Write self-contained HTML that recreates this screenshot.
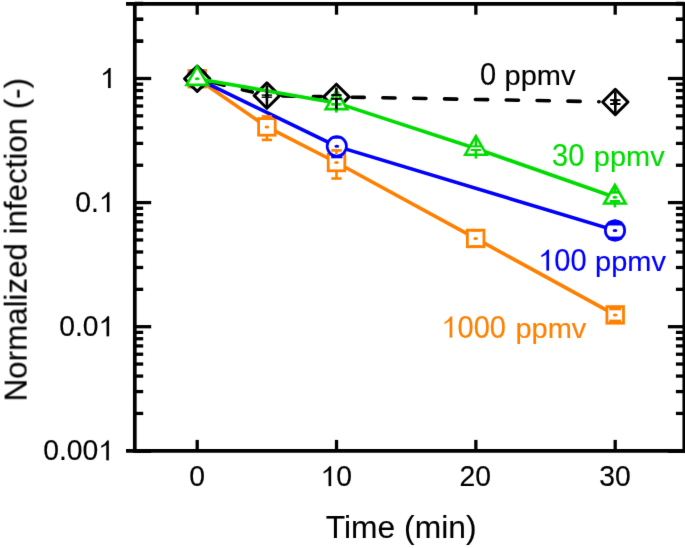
<!DOCTYPE html>
<html><head><meta charset="utf-8"><style>html,body{margin:0;padding:0;background:#fff;overflow:hidden;width:685px;height:548px}svg{display:block;will-change:transform;}</style></head>
<body>
<svg width="685" height="548" viewBox="0 0 685 548"><defs><filter id="bl" x="0" y="0" width="100%" height="100%" filterUnits="userSpaceOnUse" color-interpolation-filters="sRGB"><feConvolveMatrix order="3" kernelMatrix="0.0072 0.0847 0.0072 0.0847 1 0.0847 0.0072 0.0847 0.0072" divisor="1.3673" edgeMode="duplicate" preserveAlpha="true"/></filter></defs><g filter="url(#bl)"><rect width="685" height="548" fill="#fff"/>
<polyline points="197.20,78.70 266.90,126.90 336.50,162.50 475.65,238.45 615.20,314.90" fill="none" stroke="#ff8000" stroke-width="3.6" stroke-linejoin="round"/>
<rect x="188.90" y="70.40" width="16.60" height="16.60" fill="#fff" stroke="#ff8000" stroke-width="2.8"/>
<ellipse cx="197.20" cy="78.70" rx="2.4" ry="1.5" fill="#ff8000"/>
<rect x="258.60" y="118.60" width="16.60" height="16.60" fill="#fff" stroke="#ff8000" stroke-width="2.8"/>
<ellipse cx="266.90" cy="126.90" rx="2.4" ry="1.5" fill="#ff8000"/>
<rect x="328.20" y="154.20" width="16.60" height="16.60" fill="#fff" stroke="#ff8000" stroke-width="2.8"/>
<ellipse cx="336.50" cy="162.50" rx="2.4" ry="1.5" fill="#ff8000"/>
<rect x="467.35" y="230.15" width="16.60" height="16.60" fill="#fff" stroke="#ff8000" stroke-width="2.8"/>
<ellipse cx="475.65" cy="238.45" rx="2.4" ry="1.5" fill="#ff8000"/>
<rect x="606.90" y="306.60" width="16.60" height="16.60" fill="#fff" stroke="#ff8000" stroke-width="2.8"/>
<ellipse cx="615.20" cy="314.90" rx="2.4" ry="1.5" fill="#ff8000"/>
<polyline points="197.20,78.70 336.80,146.35 615.00,230.40" fill="none" stroke="#0000ff" stroke-width="3.6" stroke-linejoin="round"/>
<circle cx="197.20" cy="78.70" r="9.65" fill="#fff" stroke="#0000ff" stroke-width="2.7"/>
<ellipse cx="197.20" cy="78.70" rx="2.4" ry="1.5" fill="#0000ff"/>
<circle cx="336.80" cy="146.35" r="9.65" fill="#fff" stroke="#0000ff" stroke-width="2.7"/>
<ellipse cx="336.80" cy="146.35" rx="2.4" ry="1.5" fill="#0000ff"/>
<circle cx="615.00" cy="230.40" r="9.65" fill="#fff" stroke="#0000ff" stroke-width="2.7"/>
<ellipse cx="615.00" cy="230.40" rx="2.4" ry="1.5" fill="#0000ff"/>
<line x1="210.61" y1="81.95" x2="252.32" y2="92.07" stroke="#000" stroke-width="3.6" stroke-dasharray="12.25 18.6" stroke-dashoffset="-1.8" stroke-linecap="round"/>
<line x1="280.70" y1="95.86" x2="321.40" y2="96.62" stroke="#000" stroke-width="3.6" stroke-dasharray="12.25 18.6" stroke-dashoffset="-1.8" stroke-linecap="round"/>
<line x1="350.20" y1="97.15" x2="599.10" y2="101.70" stroke="#000" stroke-width="3.6" stroke-dasharray="12.25 18.6" stroke-dashoffset="-1.8" stroke-linecap="round"/>
<path d="M197.20 66.00L209.90 78.70L197.20 91.40L184.50 78.70Z" fill="#fff" stroke="#000" stroke-width="3.0" stroke-linejoin="round"/>
<ellipse cx="197.20" cy="78.70" rx="2.4" ry="1.5" fill="#000"/>
<path d="M266.90 82.90L279.60 95.60L266.90 108.30L254.20 95.60Z" fill="#fff" stroke="#000" stroke-width="3.0" stroke-linejoin="round"/>
<ellipse cx="266.90" cy="95.60" rx="2.4" ry="1.5" fill="#000"/>
<path d="M336.40 84.20L349.10 96.90L336.40 109.60L323.70 96.90Z" fill="#fff" stroke="#000" stroke-width="3.0" stroke-linejoin="round"/>
<ellipse cx="336.40" cy="96.90" rx="2.4" ry="1.5" fill="#000"/>
<path d="M615.30 89.30L628.00 102.00L615.30 114.70L602.60 102.00Z" fill="#fff" stroke="#000" stroke-width="3.0" stroke-linejoin="round"/>
<ellipse cx="615.30" cy="102.00" rx="2.4" ry="1.5" fill="#000"/>
<polyline points="197.20,78.70 336.40,102.90 475.90,148.50 614.90,197.30" fill="none" stroke="#00dc00" stroke-width="3.6" stroke-linejoin="round"/>
<path d="M197.20 66.30L207.94 84.90L186.46 84.90Z" fill="#fff" stroke="#00dc00" stroke-width="2.6"/>
<ellipse cx="197.20" cy="78.70" rx="2.4" ry="1.5" fill="#00dc00"/>
<path d="M336.40 90.50L347.14 109.10L325.66 109.10Z" fill="#fff" stroke="#00dc00" stroke-width="2.6"/>
<path d="M475.90 136.10L486.64 154.70L465.16 154.70Z" fill="#fff" stroke="#00dc00" stroke-width="2.6"/>
<path d="M614.90 184.90L625.64 203.50L604.16 203.50Z" fill="#fff" stroke="#00dc00" stroke-width="2.6"/>
<ellipse cx="614.90" cy="197.30" rx="2.4" ry="1.5" fill="#00dc00"/>
<line x1="266.90" y1="116.40" x2="266.90" y2="118.00" stroke="#ff8000" stroke-width="2.6"/><line x1="266.90" y1="136.00" x2="266.90" y2="139.90" stroke="#ff8000" stroke-width="2.6"/><line x1="261.70" y1="116.40" x2="272.10" y2="116.40" stroke="#ff8000" stroke-width="2.6"/><line x1="261.70" y1="139.90" x2="272.10" y2="139.90" stroke="#ff8000" stroke-width="2.6"/>
<line x1="336.50" y1="150.40" x2="336.50" y2="154.00" stroke="#ff8000" stroke-width="2.6"/><line x1="336.50" y1="171.00" x2="336.50" y2="178.50" stroke="#ff8000" stroke-width="2.6"/><line x1="331.30" y1="150.40" x2="341.70" y2="150.40" stroke="#ff8000" stroke-width="2.6"/><line x1="331.30" y1="178.50" x2="341.70" y2="178.50" stroke="#ff8000" stroke-width="2.6"/>
<line x1="470.45" y1="230.40" x2="480.85" y2="230.40" stroke="#ff8000" stroke-width="2.6"/><line x1="470.45" y1="246.50" x2="480.85" y2="246.50" stroke="#ff8000" stroke-width="2.6"/>
<line x1="609.20" y1="309.00" x2="621.20" y2="309.00" stroke="#ff8000" stroke-width="2.6"/><line x1="609.20" y1="320.90" x2="621.20" y2="320.90" stroke="#ff8000" stroke-width="2.6"/>
<line x1="332.80" y1="137.40" x2="340.80" y2="137.40" stroke="#0000ff" stroke-width="2.6"/>
<line x1="331.20" y1="157.00" x2="342.40" y2="157.00" stroke="#0000ff" stroke-width="2.6"/>
<line x1="615.00" y1="219.50" x2="615.00" y2="224.00" stroke="#0000ff" stroke-width="2.6"/><line x1="608.00" y1="223.50" x2="622.00" y2="223.50" stroke="#0000ff" stroke-width="4.0"/>
<line x1="615.00" y1="238.00" x2="615.00" y2="241.30" stroke="#0000ff" stroke-width="2.6"/><line x1="608.00" y1="238.10" x2="622.00" y2="238.10" stroke="#0000ff" stroke-width="3.0"/>
<line x1="336.40" y1="92.50" x2="336.40" y2="112.60" stroke="#00dc00" stroke-width="2.6"/><line x1="331.20" y1="104.30" x2="341.60" y2="104.30" stroke="#00dc00" stroke-width="2.8"/>
<line x1="475.90" y1="137.00" x2="475.90" y2="146.30" stroke="#00dc00" stroke-width="2.6"/><line x1="475.90" y1="150.00" x2="475.90" y2="158.60" stroke="#00dc00" stroke-width="2.6"/><line x1="470.70" y1="146.30" x2="481.10" y2="146.30" stroke="#00dc00" stroke-width="2.0"/><line x1="470.70" y1="150.00" x2="481.10" y2="150.00" stroke="#00dc00" stroke-width="2.0"/>
<line x1="614.90" y1="186.00" x2="614.90" y2="192.40" stroke="#00dc00" stroke-width="2.6"/><line x1="614.90" y1="201.30" x2="614.90" y2="207.40" stroke="#00dc00" stroke-width="2.6"/><line x1="609.70" y1="192.40" x2="620.10" y2="192.40" stroke="#00dc00" stroke-width="2.6"/><line x1="609.70" y1="201.30" x2="620.10" y2="201.30" stroke="#00dc00" stroke-width="2.6"/>
<line x1="266.90" y1="85.50" x2="266.90" y2="95.20" stroke="#000" stroke-width="2.6"/><line x1="266.90" y1="97.30" x2="266.90" y2="107.30" stroke="#000" stroke-width="2.6"/><line x1="261.70" y1="95.10" x2="272.10" y2="95.10" stroke="#000" stroke-width="1.4"/><line x1="261.70" y1="97.20" x2="272.10" y2="97.20" stroke="#000" stroke-width="1.4"/>
<line x1="336.40" y1="87.50" x2="336.40" y2="95.10" stroke="#000" stroke-width="2.6"/><line x1="336.40" y1="98.80" x2="336.40" y2="109.50" stroke="#000" stroke-width="2.6"/><line x1="331.20" y1="95.10" x2="341.60" y2="95.10" stroke="#000" stroke-width="2.0"/><line x1="331.20" y1="98.80" x2="341.60" y2="98.80" stroke="#000" stroke-width="2.0"/>
<line x1="615.30" y1="91.50" x2="615.30" y2="100.10" stroke="#000" stroke-width="2.6"/><line x1="615.30" y1="104.00" x2="615.30" y2="112.80" stroke="#000" stroke-width="2.6"/><line x1="610.10" y1="100.10" x2="620.50" y2="100.10" stroke="#000" stroke-width="2.0"/><line x1="610.10" y1="104.00" x2="620.50" y2="104.00" stroke="#000" stroke-width="2.0"/>
<line x1="134.80" y1="1.95" x2="134.80" y2="452.65" stroke="#000" stroke-width="3.7"/>
<line x1="684.30" y1="1.95" x2="684.30" y2="452.65" stroke="#000" stroke-width="3.7"/>
<line x1="126.00" y1="3.80" x2="687.00" y2="3.80" stroke="#000" stroke-width="3.7"/>
<line x1="126.00" y1="450.80" x2="687.00" y2="450.80" stroke="#000" stroke-width="3.7"/>
<line x1="134.80" y1="451.30" x2="151.20" y2="451.30" stroke="#000" stroke-width="3.3"/>
<line x1="667.90" y1="451.30" x2="684.30" y2="451.30" stroke="#000" stroke-width="3.3"/>
<line x1="134.80" y1="413.44" x2="143.20" y2="413.44" stroke="#000" stroke-width="3.3"/>
<line x1="675.90" y1="413.44" x2="684.30" y2="413.44" stroke="#000" stroke-width="3.3"/>
<line x1="134.80" y1="391.59" x2="143.20" y2="391.59" stroke="#000" stroke-width="3.3"/>
<line x1="675.90" y1="391.59" x2="684.30" y2="391.59" stroke="#000" stroke-width="3.3"/>
<line x1="134.80" y1="376.08" x2="143.20" y2="376.08" stroke="#000" stroke-width="3.3"/>
<line x1="675.90" y1="376.08" x2="684.30" y2="376.08" stroke="#000" stroke-width="3.3"/>
<line x1="134.80" y1="364.06" x2="143.20" y2="364.06" stroke="#000" stroke-width="3.3"/>
<line x1="675.90" y1="364.06" x2="684.30" y2="364.06" stroke="#000" stroke-width="3.3"/>
<line x1="134.80" y1="354.23" x2="143.20" y2="354.23" stroke="#000" stroke-width="3.3"/>
<line x1="675.90" y1="354.23" x2="684.30" y2="354.23" stroke="#000" stroke-width="3.3"/>
<line x1="134.80" y1="345.92" x2="143.20" y2="345.92" stroke="#000" stroke-width="3.3"/>
<line x1="675.90" y1="345.92" x2="684.30" y2="345.92" stroke="#000" stroke-width="3.3"/>
<line x1="134.80" y1="338.73" x2="143.20" y2="338.73" stroke="#000" stroke-width="3.3"/>
<line x1="675.90" y1="338.73" x2="684.30" y2="338.73" stroke="#000" stroke-width="3.3"/>
<line x1="134.80" y1="332.38" x2="143.20" y2="332.38" stroke="#000" stroke-width="3.3"/>
<line x1="675.90" y1="332.38" x2="684.30" y2="332.38" stroke="#000" stroke-width="3.3"/>
<line x1="134.80" y1="326.70" x2="151.20" y2="326.70" stroke="#000" stroke-width="3.3"/>
<line x1="667.90" y1="326.70" x2="684.30" y2="326.70" stroke="#000" stroke-width="3.3"/>
<line x1="134.80" y1="289.34" x2="143.20" y2="289.34" stroke="#000" stroke-width="3.3"/>
<line x1="675.90" y1="289.34" x2="684.30" y2="289.34" stroke="#000" stroke-width="3.3"/>
<line x1="134.80" y1="267.49" x2="143.20" y2="267.49" stroke="#000" stroke-width="3.3"/>
<line x1="675.90" y1="267.49" x2="684.30" y2="267.49" stroke="#000" stroke-width="3.3"/>
<line x1="134.80" y1="251.98" x2="143.20" y2="251.98" stroke="#000" stroke-width="3.3"/>
<line x1="675.90" y1="251.98" x2="684.30" y2="251.98" stroke="#000" stroke-width="3.3"/>
<line x1="134.80" y1="239.96" x2="143.20" y2="239.96" stroke="#000" stroke-width="3.3"/>
<line x1="675.90" y1="239.96" x2="684.30" y2="239.96" stroke="#000" stroke-width="3.3"/>
<line x1="134.80" y1="230.13" x2="143.20" y2="230.13" stroke="#000" stroke-width="3.3"/>
<line x1="675.90" y1="230.13" x2="684.30" y2="230.13" stroke="#000" stroke-width="3.3"/>
<line x1="134.80" y1="221.82" x2="143.20" y2="221.82" stroke="#000" stroke-width="3.3"/>
<line x1="675.90" y1="221.82" x2="684.30" y2="221.82" stroke="#000" stroke-width="3.3"/>
<line x1="134.80" y1="214.63" x2="143.20" y2="214.63" stroke="#000" stroke-width="3.3"/>
<line x1="675.90" y1="214.63" x2="684.30" y2="214.63" stroke="#000" stroke-width="3.3"/>
<line x1="134.80" y1="208.28" x2="143.20" y2="208.28" stroke="#000" stroke-width="3.3"/>
<line x1="675.90" y1="208.28" x2="684.30" y2="208.28" stroke="#000" stroke-width="3.3"/>
<line x1="134.80" y1="202.60" x2="151.20" y2="202.60" stroke="#000" stroke-width="3.3"/>
<line x1="667.90" y1="202.60" x2="684.30" y2="202.60" stroke="#000" stroke-width="3.3"/>
<line x1="134.80" y1="165.24" x2="143.20" y2="165.24" stroke="#000" stroke-width="3.3"/>
<line x1="675.90" y1="165.24" x2="684.30" y2="165.24" stroke="#000" stroke-width="3.3"/>
<line x1="134.80" y1="143.39" x2="143.20" y2="143.39" stroke="#000" stroke-width="3.3"/>
<line x1="675.90" y1="143.39" x2="684.30" y2="143.39" stroke="#000" stroke-width="3.3"/>
<line x1="134.80" y1="127.88" x2="143.20" y2="127.88" stroke="#000" stroke-width="3.3"/>
<line x1="675.90" y1="127.88" x2="684.30" y2="127.88" stroke="#000" stroke-width="3.3"/>
<line x1="134.80" y1="115.86" x2="143.20" y2="115.86" stroke="#000" stroke-width="3.3"/>
<line x1="675.90" y1="115.86" x2="684.30" y2="115.86" stroke="#000" stroke-width="3.3"/>
<line x1="134.80" y1="106.03" x2="143.20" y2="106.03" stroke="#000" stroke-width="3.3"/>
<line x1="675.90" y1="106.03" x2="684.30" y2="106.03" stroke="#000" stroke-width="3.3"/>
<line x1="134.80" y1="97.72" x2="143.20" y2="97.72" stroke="#000" stroke-width="3.3"/>
<line x1="675.90" y1="97.72" x2="684.30" y2="97.72" stroke="#000" stroke-width="3.3"/>
<line x1="134.80" y1="90.53" x2="143.20" y2="90.53" stroke="#000" stroke-width="3.3"/>
<line x1="675.90" y1="90.53" x2="684.30" y2="90.53" stroke="#000" stroke-width="3.3"/>
<line x1="134.80" y1="84.18" x2="143.20" y2="84.18" stroke="#000" stroke-width="3.3"/>
<line x1="675.90" y1="84.18" x2="684.30" y2="84.18" stroke="#000" stroke-width="3.3"/>
<line x1="134.80" y1="78.50" x2="151.20" y2="78.50" stroke="#000" stroke-width="3.3"/>
<line x1="667.90" y1="78.50" x2="684.30" y2="78.50" stroke="#000" stroke-width="3.3"/>
<line x1="134.80" y1="41.14" x2="143.20" y2="41.14" stroke="#000" stroke-width="3.3"/>
<line x1="675.90" y1="41.14" x2="684.30" y2="41.14" stroke="#000" stroke-width="3.3"/>
<line x1="134.80" y1="19.29" x2="143.20" y2="19.29" stroke="#000" stroke-width="3.3"/>
<line x1="675.90" y1="19.29" x2="684.30" y2="19.29" stroke="#000" stroke-width="3.3"/>
<line x1="134.80" y1="3.78" x2="143.20" y2="3.78" stroke="#000" stroke-width="3.3"/>
<line x1="675.90" y1="3.78" x2="684.30" y2="3.78" stroke="#000" stroke-width="3.3"/>
<line x1="134.80" y1="-8.24" x2="143.20" y2="-8.24" stroke="#000" stroke-width="3.3"/>
<line x1="675.90" y1="-8.24" x2="684.30" y2="-8.24" stroke="#000" stroke-width="3.3"/>
<line x1="134.80" y1="-18.07" x2="143.20" y2="-18.07" stroke="#000" stroke-width="3.3"/>
<line x1="675.90" y1="-18.07" x2="684.30" y2="-18.07" stroke="#000" stroke-width="3.3"/>
<line x1="134.80" y1="-26.38" x2="143.20" y2="-26.38" stroke="#000" stroke-width="3.3"/>
<line x1="675.90" y1="-26.38" x2="684.30" y2="-26.38" stroke="#000" stroke-width="3.3"/>
<line x1="134.80" y1="-33.57" x2="143.20" y2="-33.57" stroke="#000" stroke-width="3.3"/>
<line x1="675.90" y1="-33.57" x2="684.30" y2="-33.57" stroke="#000" stroke-width="3.3"/>
<line x1="134.80" y1="-39.92" x2="143.20" y2="-39.92" stroke="#000" stroke-width="3.3"/>
<line x1="675.90" y1="-39.92" x2="684.30" y2="-39.92" stroke="#000" stroke-width="3.3"/>
<line x1="134.80" y1="41.14" x2="143.20" y2="41.14" stroke="#000" stroke-width="3.3"/>
<line x1="675.90" y1="41.14" x2="684.30" y2="41.14" stroke="#000" stroke-width="3.3"/>
<line x1="134.80" y1="19.29" x2="143.20" y2="19.29" stroke="#000" stroke-width="3.3"/>
<line x1="675.90" y1="19.29" x2="684.30" y2="19.29" stroke="#000" stroke-width="3.3"/>
<line x1="134.80" y1="3.40" x2="143.20" y2="3.40" stroke="#000" stroke-width="3.3"/>
<line x1="675.90" y1="3.40" x2="684.30" y2="3.40" stroke="#000" stroke-width="3.3"/>
<line x1="197.20" y1="439.90" x2="197.20" y2="450.80" stroke="#000" stroke-width="3.3"/>
<line x1="197.20" y1="3.80" x2="197.20" y2="14.70" stroke="#000" stroke-width="3.3"/>
<line x1="336.53" y1="439.90" x2="336.53" y2="450.80" stroke="#000" stroke-width="3.3"/>
<line x1="336.53" y1="3.80" x2="336.53" y2="14.70" stroke="#000" stroke-width="3.3"/>
<line x1="475.86" y1="439.90" x2="475.86" y2="450.80" stroke="#000" stroke-width="3.3"/>
<line x1="475.86" y1="3.80" x2="475.86" y2="14.70" stroke="#000" stroke-width="3.3"/>
<line x1="615.19" y1="439.90" x2="615.19" y2="450.80" stroke="#000" stroke-width="3.3"/>
<line x1="615.19" y1="3.80" x2="615.19" y2="14.70" stroke="#000" stroke-width="3.3"/>
<path transform="translate(100.06,88.00) scale(0.01382,-0.01382)" d="M763 0L583 0L583 1121Q440 1010 223 915L223 1045Q520 1200 651 1440L763 1440Z" fill="#000" stroke="#000" stroke-width="10.9"/>
<text transform="translate(75.26,212.10) scale(1,1.055)" font-size="28.3" fill="#000" stroke="#000" font-family="'Liberation Sans', sans-serif" stroke-width="0.15">0.</text><path transform="translate(98.86,212.10) scale(0.01382,-0.01382)" d="M763 0L583 0L583 1121Q440 1010 223 915L223 1045Q520 1200 651 1440L763 1440Z" fill="#000" stroke="#000" stroke-width="10.9"/>
<text transform="translate(59.22,336.20) scale(1,1.055)" font-size="28.3" fill="#000" stroke="#000" font-family="'Liberation Sans', sans-serif" stroke-width="0.15">0.0</text><path transform="translate(98.56,336.20) scale(0.01382,-0.01382)" d="M763 0L583 0L583 1121Q440 1010 223 915L223 1045Q520 1200 651 1440L763 1440Z" fill="#000" stroke="#000" stroke-width="10.9"/>
<text transform="translate(43.18,460.30) scale(1,1.055)" font-size="28.3" fill="#000" stroke="#000" font-family="'Liberation Sans', sans-serif" stroke-width="0.15">0.00</text><path transform="translate(98.26,460.30) scale(0.01382,-0.01382)" d="M763 0L583 0L583 1121Q440 1010 223 915L223 1045Q520 1200 651 1440L763 1440Z" fill="#000" stroke="#000" stroke-width="10.9"/>
<text transform="translate(189.13,486.10) scale(1,1.055)" font-size="28.3" fill="#000" stroke="#000" font-family="'Liberation Sans', sans-serif" stroke-width="0.15">0</text>
<path transform="translate(320.56,486.10) scale(0.01382,-0.01382)" d="M763 0L583 0L583 1121Q440 1010 223 915L223 1045Q520 1200 651 1440L763 1440Z" fill="#000" stroke="#000" stroke-width="10.9"/><text transform="translate(336.30,486.10) scale(1,1.055)" font-size="28.3" fill="#000" stroke="#000" font-family="'Liberation Sans', sans-serif" stroke-width="0.15">0</text>
<text transform="translate(459.51,486.10) scale(1,1.055)" font-size="28.3" fill="#000" stroke="#000" font-family="'Liberation Sans', sans-serif" stroke-width="0.15">20</text>
<text transform="translate(599.26,486.10) scale(1,1.055)" font-size="28.3" fill="#000" stroke="#000" font-family="'Liberation Sans', sans-serif" stroke-width="0.15">30</text>
<text transform="translate(480.10,85.40) scale(1,1.06)" font-size="29" fill="#000" stroke="#000" font-family="'Liberation Sans', sans-serif" stroke-width="0.15">0</text>
<text transform="translate(504.60,85.40) scale(1,0.985)" font-size="29" fill="#000" stroke="#000" font-family="'Liberation Sans', sans-serif" stroke-width="0.15">ppmv</text>
<text transform="translate(552.10,166.20) scale(1,1.06)" font-size="29" fill="#00dc00" stroke="#00dc00" font-family="'Liberation Sans', sans-serif" stroke-width="0.15">30</text>
<text transform="translate(593.80,166.20) scale(1,0.985)" font-size="29" fill="#00dc00" stroke="#00dc00" font-family="'Liberation Sans', sans-serif" stroke-width="0.15">ppmv</text>
<path transform="translate(538.20,270.60) scale(0.01416,-0.01416)" d="M763 0L583 0L583 1161Q440 1050 223 955L223 1085Q520 1240 651 1480L763 1480Z" fill="#0000ff" stroke="#0000ff" stroke-width="10.6"/><text transform="translate(554.33,270.60) scale(1,1.06)" font-size="29" fill="#0000ff" stroke="#0000ff" font-family="'Liberation Sans', sans-serif" stroke-width="0.15">00</text>
<text transform="translate(595.10,270.60) scale(1,0.985)" font-size="29" fill="#0000ff" stroke="#0000ff" font-family="'Liberation Sans', sans-serif" stroke-width="0.15">ppmv</text>
<path transform="translate(441.40,337.50) scale(0.01416,-0.01416)" d="M763 0L583 0L583 1161Q440 1050 223 955L223 1085Q520 1240 651 1480L763 1480Z" fill="#ff8000" stroke="#ff8000" stroke-width="10.6"/><text transform="translate(457.53,337.50) scale(1,1.06)" font-size="29" fill="#ff8000" stroke="#ff8000" font-family="'Liberation Sans', sans-serif" stroke-width="0.15">000</text>
<text transform="translate(515.40,337.50) scale(1,0.985)" font-size="29" fill="#ff8000" stroke="#ff8000" font-family="'Liberation Sans', sans-serif" stroke-width="0.15">ppmv</text>
<text transform="translate(325.8,537.6) scale(1,0.97)" font-size="31.8" stroke="#000" stroke-width="0.12" font-family="'Liberation Sans', sans-serif">Time (min)</text>
<text transform="translate(26.5,401.4) rotate(-90) scale(1,1.03)" font-size="31.3" stroke="#000" stroke-width="0.12" font-family="'Liberation Sans', sans-serif">Normalized infection (-)</text>
</g></svg>
</body></html>
